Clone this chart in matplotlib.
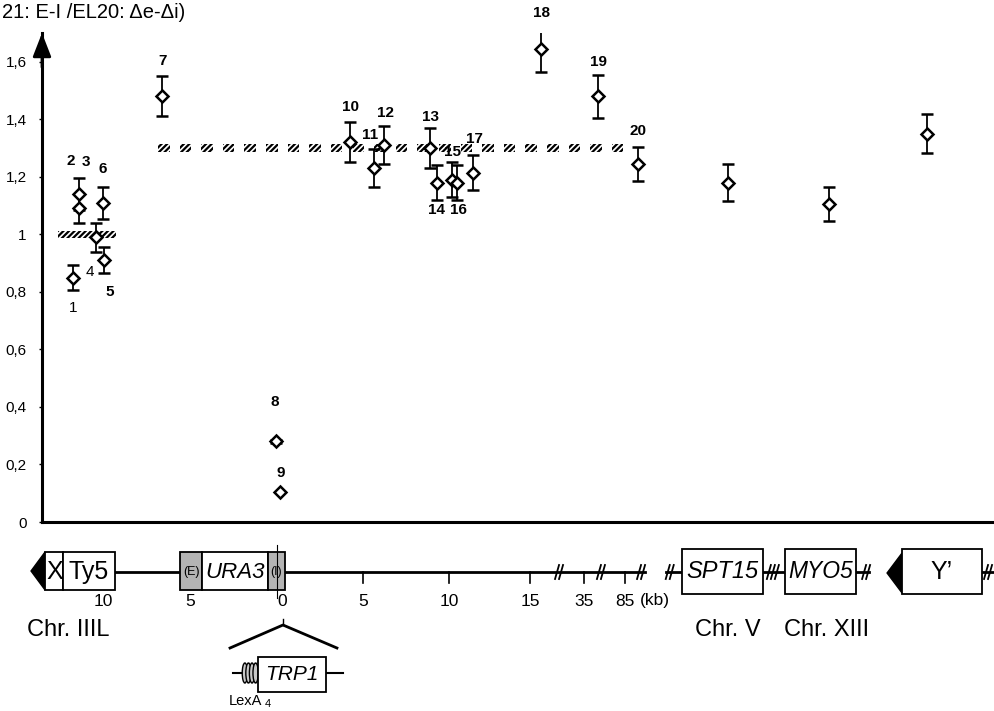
import numpy as np
import matplotlib.pyplot as plt
from matplotlib.patches import Rectangle, Polygon, Ellipse
from matplotlib.ticker import FuncFormatter

plt.rcParams['font.family'] = ['Liberation Sans', 'DejaVu Sans']
plt.rcParams['hatch.linewidth'] = 1.6

# Probe sites: position along the drawn map (kb-like map units), ratio and error
site = list(range(1, 24))
pos = [-12.67, -12.3, -12.3, -11.27, -10.79, -10.85, -7.27, -0.36, -0.12,
       4.12, 5.58, 6.18, 8.97, 9.39, 10.3, 10.6, 11.58, 15.7, 19.15, 21.58,
       27.03, 33.15, 39.09]
ratio = [0.85, 1.14, 1.09, 0.99, 0.91, 1.11, 1.48, 0.28, 0.105,
         1.32, 1.23, 1.31, 1.30, 1.18, 1.19, 1.18, 1.215, 1.645, 1.48, 1.245,
         1.18, 1.105, 1.35]
err = [0.045, 0.055, 0.05, 0.05, 0.045, 0.055, 0.07, 0.005, 0.0,
       0.07, 0.065, 0.065, 0.068, 0.06, 0.06, 0.06, 0.06, 0.08, 0.075, 0.06,
       0.065, 0.06, 0.068]

# reference levels (hatched bars)
wt_level, wt_span = 1.0, (-13.58, -10.06)
ura_level, ura_span = 1.3, (-7.52, 21.27)

yticks = [0, 0.2, 0.4, 0.6, 0.8, 1.0, 1.2, 1.4, 1.6]

# map scale labels below the plot
map_ticks = [-10.85, -5.58, 0, 4.9, 10.12, 15.03, 18.3, 20.79]
map_labels = ['10', '5', '0', '5', '10', '15', '35', '85']

# label offsets (pixels) of the site numbers
label_off = {1: (0, -30), 2: (-8, 33), 3: (7, 46), 4: (-6, -35), 5: (6, -32),
             6: (0, 34), 7: (0, 35), 8: (-1, 39), 9: (1, 19), 10: (0, 35),
             11: (-4, 33), 12: (1, 32), 13: (0, 31), 14: (0, -27), 15: (0, 28),
             16: (1, -27), 17: (1, 34), 18: (0, 36), 19: (0, 34), 20: (0, 33)}
light = {1, 4}

fig = plt.figure(figsize=(9.94, 7.11), dpi=100)
ax = fig.add_axes([42 / 994, 189 / 711, 952 / 994, 489 / 711])
ax.set_xlim(-14.55, 43.15)
ax.set_ylim(0, 1.70)

for s in ['top', 'right']:
    ax.spines[s].set_visible(False)
for s in ['left', 'bottom']:
    ax.spines[s].set_linewidth(2.2)
ax.set_xticks([])
ax.set_yticks(yticks)
ax.yaxis.set_major_formatter(FuncFormatter(lambda v, _: ('%g' % round(v, 1)).replace('.', ',')))
ax.tick_params(axis='y', length=2, width=1, pad=9, labelsize=11)

ax.annotate('', xy=(0, 1), xycoords='axes fraction', xytext=(0, 0.93),
            arrowprops=dict(arrowstyle='-|>,head_length=0.9,head_width=0.35',
                            color='k', lw=2, mutation_scale=16, shrinkA=0, shrinkB=0),
            annotation_clip=False)

# hatched reference bars
ax.add_patch(Rectangle((wt_span[0], wt_level - 0.013), wt_span[1] - wt_span[0], 0.026,
                       facecolor='white', edgecolor='black', hatch='//////', lw=0))
for x0 in np.arange(ura_span[0], ura_span[1], 1.31):
    ax.add_patch(Rectangle((x0, ura_level - 0.014), 0.7, 0.028,
                           facecolor='white', edgecolor='black', hatch='//////', lw=0))

ax.errorbar(pos, ratio, yerr=err, fmt='D', ms=6, mfc='white', mec='black', mew=1.8,
            ecolor='black', elinewidth=1.3, capsize=4, capthick=1.5, zorder=3)

for s, x, y in zip(site, pos, ratio):
    if s in label_off:
        ax.annotate(str(s), (x, y), xytext=label_off[s], textcoords='offset pixels',
                    ha='center', va='center', fontsize=11,
                    fontweight='normal' if s in light else 'bold', annotation_clip=False)

fig.text(2 / 994, 1 - 13 / 711, '21: E-I /EL20: \u0394e-\u0394i)', fontsize=14.5,
         ha='left', va='center')

# ---- chromosome map below ----
K = 16.5  # px per map unit
ax2 = fig.add_axes([0, 0, 1, 189 / 711])
ax2.set_xlim(-282 / K, 712 / K)
ax2.set_ylim(711, 522)
ax2.axis('off')


def box(x0, x1, y0, y1, fc='white'):
    ax2.add_patch(Rectangle((x0, y0), x1 - x0, y1 - y0, facecolor=fc,
                            edgecolor='black', lw=1.3, zorder=3))


def brk(x, y, n=2):
    for i in range(n):
        xc = x + (i - (n - 1) / 2) * 4 / K
        ax2.plot([xc - 2 / K, xc + 2 / K], [y + 7, y - 7], color='k', lw=1.3, zorder=4)


def line(x0, x1, y=572, lw=2):
    ax2.plot([x0, x1], [y, y], color='k', lw=lw, zorder=2)


# Chr. IIIL
ax2.add_patch(Polygon([(-15.21, 571), (-14.36, 552), (-14.36, 590)], closed=True,
                      facecolor='black', edgecolor='black'))
box(-14.36, -13.27, 552, 590)
box(-13.27, -10.12, 552, 590)
ax2.text(-13.8, 572, 'X', ha='center', va='center', fontsize=18, zorder=5)
ax2.text(-11.7, 572, 'Ty5', ha='center', va='center', fontsize=18, zorder=5)
line(-10.12, -6.18)
box(-6.18, -4.85, 552, 590, fc='#b4b4b4')
box(-4.85, -0.85, 552, 590)
box(-0.85, 0.18, 552, 590, fc='#b4b4b4')
ax2.text(-5.5, 572, '(E)', ha='center', va='center', fontsize=9, zorder=5)
ax2.text(-2.85, 572, 'URA3', ha='center', va='center', fontsize=16, style='italic', zorder=5)
ax2.text(-0.33, 572, '(I)', ha='center', va='center', fontsize=9, zorder=5)
ax2.plot([-0.3, -0.3], [545, 598], color='k', lw=0.8, zorder=5)
line(0.18, 22.0)
for x in map_ticks[3:]:
    ax2.plot([x, x], [572, 583], color='k', lw=1.2)
for x, t in zip(map_ticks, map_labels):
    ax2.text(x, 601, t, ha='center', va='center', fontsize=12.5)
ax2.text(22.6, 601, '(kb)', ha='center', va='center', fontsize=12.5)
for x in [16.79, 19.33, 21.76]:
    brk(x, 572)
ax2.text(-12.97, 630, 'Chr. IIIL', ha='center', va='center', fontsize=17)

# insertion at 0: LexA sites + TRP1
ax2.plot([-3.15, 0.06, 3.33], [648, 625, 648], color='k', lw=2)
ax2.plot([0.06, 0.06], [619, 625], color='k', lw=1)
line(-2.97, 3.70, y=673, lw=1.5)
for xc in np.linspace(-2.25, -1.6, 4):
    ax2.add_patch(Ellipse((xc, 673), 0.32, 20, facecolor='#c8c8c8', edgecolor='black',
                          lw=1, zorder=3))
box(-1.45, 2.67, 657, 692)
ax2.text(0.61, 674, 'TRP1', ha='center', va='center', fontsize=15, style='italic', zorder=5)
ax2.text(-2.24, 701, 'LexA', ha='center', va='center', fontsize=10.5)
ax2.text(-0.85, 704, '4', ha='center', va='center', fontsize=8)

# Chr. V, Chr. XIII, telomere
line(23.3, 24.24)
brk(23.5, 572)
box(24.24, 29.15, 549, 594)
ax2.text(26.7, 572, 'SPT15', ha='center', va='center', fontsize=17, style='italic', zorder=5)
line(29.15, 30.48)
brk(29.75, 572, n=3)
box(30.48, 34.79, 549, 594)
ax2.text(32.63, 572, 'MYO5', ha='center', va='center', fontsize=16.5, style='italic', zorder=5)
line(34.79, 35.6)
brk(35.4, 572)
ax2.add_patch(Polygon([(36.67, 573), (37.58, 553), (37.58, 593)], closed=True,
                      facecolor='black', edgecolor='black'))
box(37.58, 42.42, 549, 594)
ax2.text(40.0, 572, 'Y\u2019', ha='center', va='center', fontsize=18, zorder=5)
line(42.42, 43.15)
brk(42.79, 572)
ax2.text(27.03, 630, 'Chr. V', ha='center', va='center', fontsize=17)
ax2.text(33.03, 630, 'Chr. XIII', ha='center', va='center', fontsize=17)

fig.savefig('out.png', dpi=100)
